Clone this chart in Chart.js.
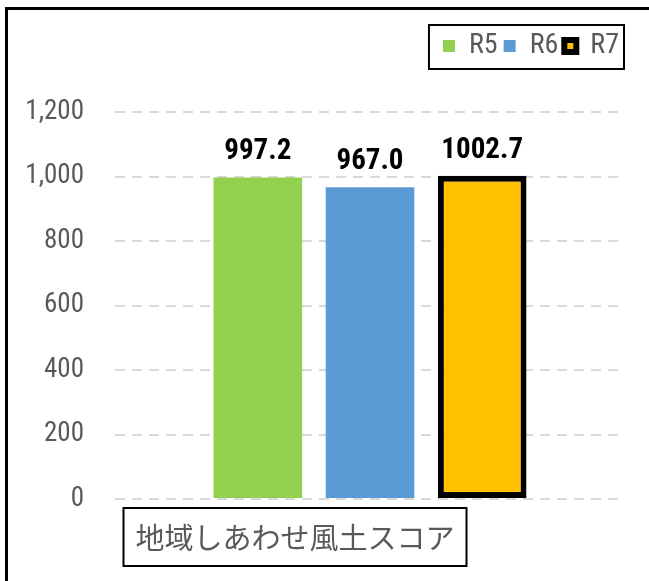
<!DOCTYPE html>
<html>
<head>
<meta charset="utf-8">
<script src="https://cdn.jsdelivr.net/npm/chart.js@4.4.1/dist/chart.umd.min.js"></script>
<style>
  body { margin: 0; background: #fff; }
  #wrap { position: relative; width: 649px; height: 581px; }
  #frame { position: absolute; left: 5px; top: 7px; right: 0; bottom: 0;
           border-top: 3px solid #000; border-left: 3px solid #000; }
  canvas { position: absolute; left: 0; top: 0; }
</style>
</head>
<body>
<div id="wrap">
  <div id="frame"></div>
  <canvas id="barChart" width="649" height="581"></canvas>
</div>
<script>
//DATA
const categories = ["地域しあわせ風土スコア"];
const seriesNames = ["R5", "R6", "R7"];
const r5Values = [997.2];
const r6Values = [967.0];
const r7Values = [1002.7];
const yTicks = [0, 200, 400, 600, 800, 1000, 1200];

const narrow = "'Roboto Condensed', 'Liberation Sans', sans-serif";

//DRAW THE VALUE ABOVE EACH BAR
const valueLabels = {
  id: "valueLabels",
  afterDatasetsDraw(chart) {
    const ctx = chart.ctx;
    ctx.save();
    ctx.font = "bold 29px " + narrow;
    ctx.fillStyle = "#000";
    ctx.textAlign = "center";
    ctx.textBaseline = "alphabetic";
    chart.data.datasets.forEach((ds, i) => {
      chart.getDatasetMeta(i).data.forEach((bar, j) => {
        ctx.fillText(ds.data[j].toFixed(1), bar.x, bar.y - 18);
      });
    });
    ctx.restore();
  },
};

//BOX ROUND THE LEGEND AND THE CATEGORY LABEL
const boxes = {
  id: "boxes",
  afterDraw(chart) {
    const ctx = chart.ctx;
    const hb = chart.legend.legendHitBoxes;
    ctx.save();
    ctx.strokeStyle = "#000";
    ctx.lineWidth = 2;
    if (hb && hb.length) {
      const l = Math.min(...hb.map((b) => b.left)) - 14;
      const r = Math.max(...hb.map((b) => b.left + b.width)) + 5;
      const t = hb[0].top - 7;
      const b = hb[0].top + hb[0].height + 9;
      ctx.strokeRect(l, t, r - l, b - t);
    }
    const area = chart.chartArea;
    ctx.font = "29px 'Noto Sans CJK JP', sans-serif";
    ctx.fillStyle = "#595959";
    ctx.textAlign = "center";
    ctx.textBaseline = "middle";
    const cx = area.left + 180;
    const cy = area.bottom + 38;
    const w = ctx.measureText(categories[0]).width + 24;
    ctx.strokeRect(cx - w / 2, cy - 29, w, 58);
    ctx.fillText(categories[0], cx, cy + 1);
    ctx.restore();
  },
};

const data = {
  labels: categories,
  datasets: [
    {
      label: seriesNames[0],
      data: r5Values,
      backgroundColor: "#92D050",
      borderWidth: 0,
    },
    {
      label: seriesNames[1],
      data: r6Values,
      backgroundColor: "#5B9BD5",
      borderWidth: 0,
    },
    {
      label: seriesNames[2],
      data: r7Values,
      backgroundColor: "#FFC000",
      borderColor: "#000",
      borderWidth: 6,
      borderSkipped: false,
    },
  ],
};

const config = {
  type: "bar",
  data: data,
  options: {
    responsive: false,
    animation: false,
    categoryPercentage: 0.66,
    barPercentage: 0.79,
    layout: { padding: { left: 5, right: 24, top: 26, bottom: 82 } },
    plugins: {
      legend: {
        position: "top",
        align: "end",
        labels: {
          boxWidth: 12,
          boxHeight: 12,
          padding: 6,
          color: "#595959",
          font: { size: 28, family: narrow },
        },
      },
      //EMPTY TITLE UNDER THE LEGEND, ONLY TO LEAVE SPACE ABOVE THE PLOT
      title: {
        display: true,
        text: "",
        weight: 500,
        padding: 0,
        font: { size: 30, lineHeight: 1.4 },
      },
      tooltip: { enabled: false },
    },
    scales: {
      x: { display: false },
      y: {
        min: 0,
        max: 1200,
        afterBuildTicks: (s) => {
          s.ticks = yTicks.map((v) => ({ value: v }));
        },
        afterFit: (s) => {
          s.width = 110;
        },
        border: { display: false, dash: [10, 7] },
        grid: {
          color: "#d9d9d9",
          lineWidth: 2,
          drawTicks: false,
        },
        ticks: {
          padding: 31,
          color: "#595959",
          font: { size: 27, family: narrow },
          callback: (v) => v.toLocaleString("en-US"),
        },
      },
    },
  },
  plugins: [valueLabels, boxes],
};

const chart = new Chart(document.getElementById("barChart"), config);
</script>
</body>
</html>
